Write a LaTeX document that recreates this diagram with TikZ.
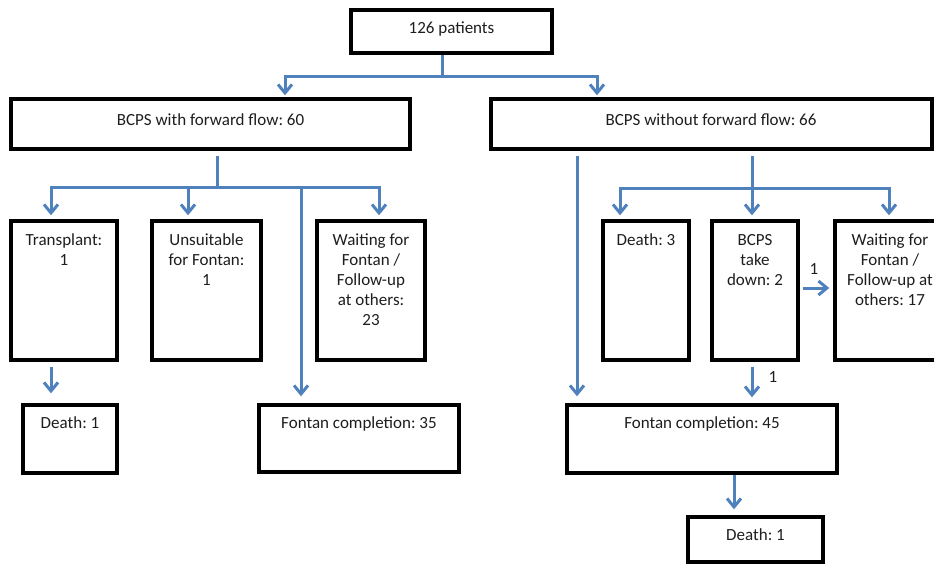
\documentclass[tikz,border=0pt]{standalone}
\usepackage{fontspec}
\setmainfont{Carlito}
\usetikzlibrary{arrows.meta}
\definecolor{flowblue}{HTML}{4F81BD}
\definecolor{txtgray}{HTML}{1E1E1E}
\begin{document}
\frenchspacing
\begin{tikzpicture}[x=1pt,y=-1pt,
  box/.style={draw=black,line width=3.4pt,rectangle,inner sep=0pt,fill=white},
  txt/.style={inner sep=0pt,anchor=north,align=center,text=txtgray,font=\fontsize{17}{20}\selectfont},
  lbl/.style={inner sep=0pt,text=txtgray,font=\fontsize{17}{20}\selectfont},
  conn/.style={draw=flowblue,line width=3pt},
  arr/.style={conn,-{Straight Barb[length=8.5pt,width=14pt]}}]
\useasboundingbox (0,0) rectangle (934,565);
% boxes
\node[box,minimum width=201pt,minimum height=43pt] (top) at (451.5,31.5) {};
\node[box,minimum width=399pt,minimum height=50pt] (bwith) at (210.5,124) {};
\node[box,minimum width=441pt,minimum height=50pt] (bwo) at (711.5,124) {};
\node[box,minimum width=106pt,minimum height=139pt] (trans) at (64,290.5) {};
\node[box,minimum width=109pt,minimum height=139pt] (unsuit) at (206.5,290.5) {};
\node[box,minimum width=108pt,minimum height=139pt] (wait1) at (371,290.5) {};
\node[box,minimum width=94pt,minimum height=68pt] (death1) at (70,439) {};
\node[box,minimum width=200pt,minimum height=67pt] (fon35) at (359,438.5) {};
\node[box,minimum width=86pt,minimum height=139pt] (death3) at (646,290.5) {};
\node[box,minimum width=86pt,minimum height=139pt] (takedown) at (755,290.5) {};
\node[box,minimum width=108pt,minimum height=139pt] (wait2) at (889,290.5) {};
\node[box,minimum width=270pt,minimum height=68pt] (fon45) at (702,439) {};
\node[box,minimum width=135pt,minimum height=45pt] (death4) at (755.5,539.5) {};
% texts
\node[txt] (ttop) at (451.5,19.5) {\strut 126 patients};
\node[txt] (tbwith) at (210.5,111.5) {\strut BCPS with forward flow: 60};
\node[txt] (tbwo) at (711,111.5) {\strut BCPS without forward flow: 66};
\node[txt] (ttrans) at (64,231.5) {\strut Transplant:\\\strut 1};
\node[txt] (tunsuit) at (206.5,231.5) {\strut Unsuitable\\\strut for Fontan:\\\strut 1};
\node[txt] (twait1) at (371,231.5) {\strut Waiting for\\\strut Fontan /\\\strut Follow-up\\\strut at others:\\\strut 23};
\node[txt] (tdeath1) at (70,414.5) {\strut Death: 1};
\node[txt] (tfon35) at (359,414.5) {\strut Fontan completion: 35};
\node[txt] (tdeath3) at (646,231.5) {\strut Death: 3};
\node[txt] (ttake) at (755,231.5) {\strut BCPS\\\strut take\\\strut down: 2};
\node[txt] (twait2) at (890,231.5) {\strut Waiting for\\\strut Fontan /\\\strut Follow-up at\\\strut others: 17};
\node[txt] (tfon45) at (702,414.5) {\strut Fontan completion: 45};
\node[txt] (tdeath4) at (755.5,526.5) {\strut Death: 1};
% connectors
\coordinate (j0) at (442,76);
\draw[conn] ([xshift=-9.5pt]top.south) -- (j0);
\draw[arr] (j0) -| ([xshift=74.5pt,yshift=2pt]bwith.north);
\draw[arr] (j0) -| ([xshift=-114.5pt,yshift=2pt]bwo.north);
\coordinate (j1) at (217,187);
\draw[conn] ([xshift=6.5pt,yshift=-5pt]bwith.south) -- (j1);
\draw[arr] (j1) -| ([xshift=-13pt,yshift=4pt]trans.north);
\draw[arr] (j1) -| ([xshift=-18.5pt,yshift=4pt]unsuit.north);
\draw[arr] (j1) -| ([xshift=8pt,yshift=4pt]wait1.north);
\draw[arr] (j1) -| ([xshift=-58pt,yshift=7pt]fon35.north);
\draw[arr] ([xshift=-13pt,yshift=-5pt]trans.south) -- ([xshift=-19pt,yshift=10pt]death1.north);
\draw[arr] ([xshift=-134.5pt,yshift=-5pt]bwo.south) -- ([xshift=-125pt,yshift=7pt]fon45.north);
\coordinate (j2) at (752,188);
\draw[conn] ([xshift=40.5pt,yshift=-5pt]bwo.south) -- (j2);
\draw[arr] (j2) -| ([xshift=-26pt,yshift=4pt]death3.north);
\draw[arr] (j2) -- ([xshift=-3pt,yshift=4pt]takedown.north);
\draw[arr] (j2) -| ([yshift=4pt]wait2.north);
\draw[arr] ([xshift=3pt,yshift=2.5pt]takedown.east) -- ([xshift=-4pt,yshift=2.5pt]wait2.west);
\node[lbl] (l1) at (814,269) {1};
\draw[arr] ([xshift=-3pt,yshift=-5pt]takedown.south) -- ([xshift=50pt,yshift=6pt]fon45.north);
\node[lbl] (l2) at (773,377) {1};
\draw[arr] ([xshift=32pt]fon45.south) -- ([xshift=-21.5pt,yshift=6pt]death4.north);
\end{tikzpicture}
\end{document}
